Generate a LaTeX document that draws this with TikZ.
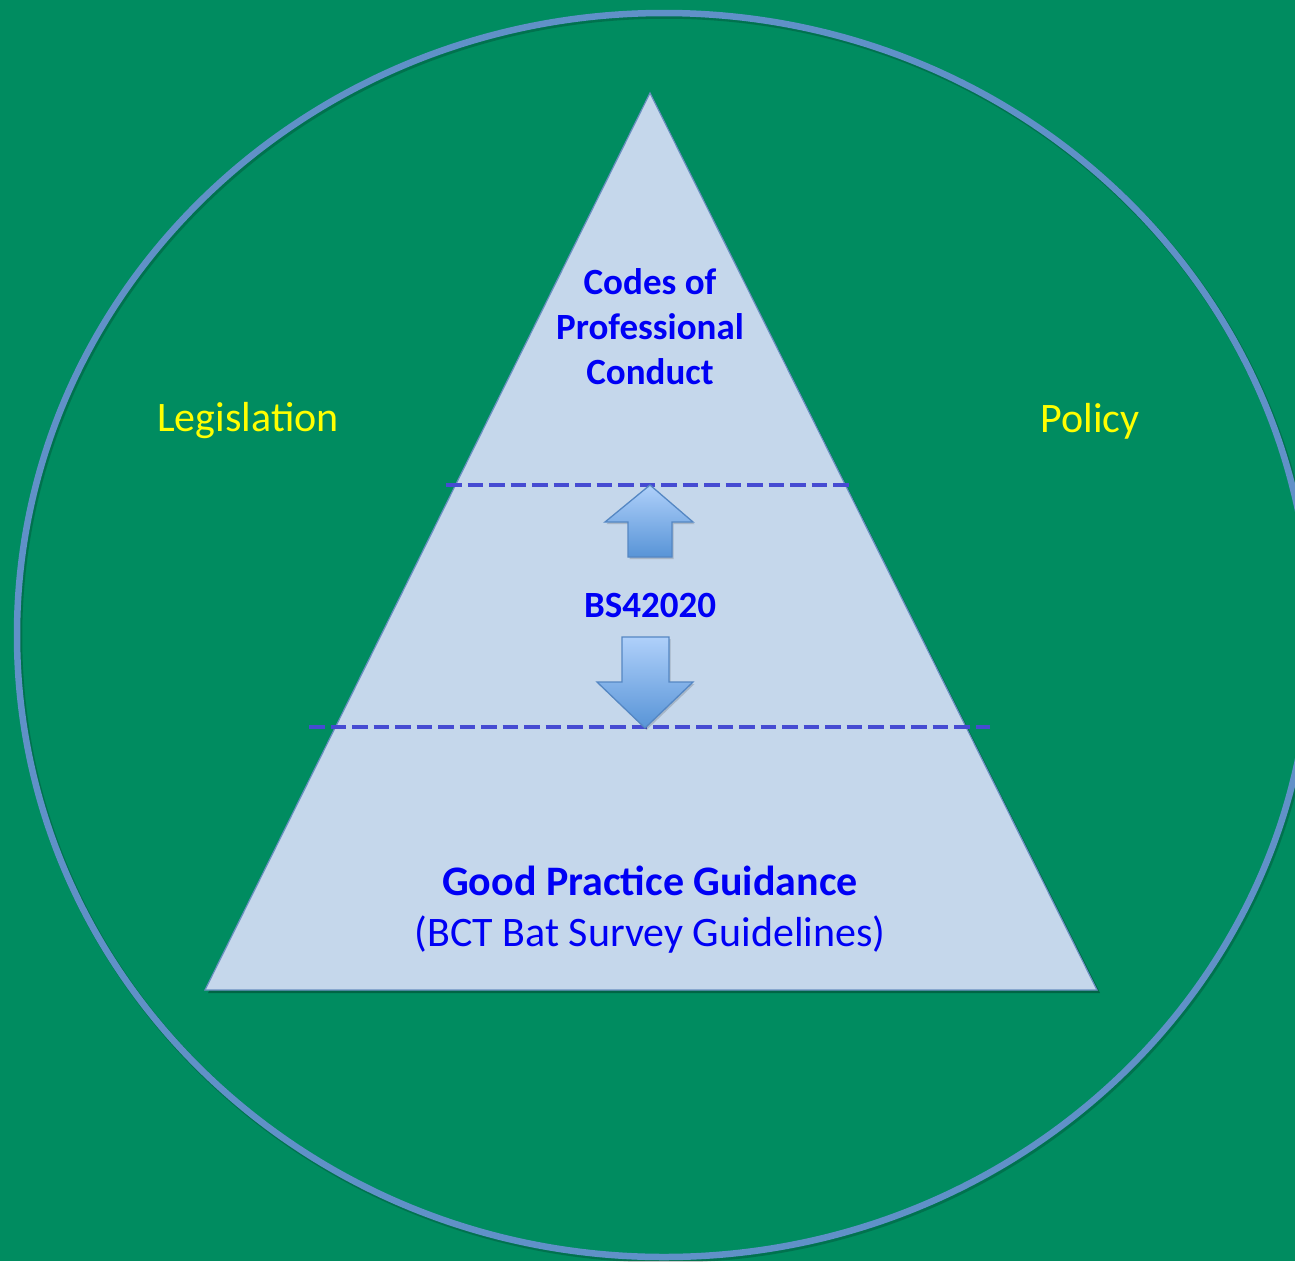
\documentclass[tikz,border=0pt]{standalone}
\usepackage{fontspec}
\setmainfont{Carlito}
\definecolor{bgc}{RGB}{0,140,96}
\definecolor{ringc}{RGB}{96,145,200}
\definecolor{trifill}{RGB}{197,215,235}
\definecolor{triedge}{RGB}{105,143,192}
\definecolor{dashc}{RGB}{70,75,210}
\definecolor{txtblue}{RGB}{0,0,245}
\definecolor{txtyellow}{RGB}{255,255,0}
\definecolor{arrtop}{RGB}{175,208,250}
\definecolor{arrbot}{RGB}{88,148,215}
\definecolor{arredge}{RGB}{85,135,195}
\begin{document}
\begin{tikzpicture}[x=1pt,y=-1pt,
  ring/.style={draw=ringc, line width=6.5pt},
  tri/.style={fill=trifill, draw=triedge, line width=1.2pt, line join=miter},
  divider/.style={draw=dashc, line width=4.7pt, dash pattern=on 15.5pt off 6pt},
  bigarrow/.style={top color=arrtop, bottom color=arrbot, draw=arredge, line width=1.3pt, line join=miter},
  boldlbl/.style={text=txtblue, font=\bfseries\fontsize{37}{45}\selectfont, anchor=base, inner sep=0pt},
  guidebold/.style={text=txtblue, font=\bfseries\fontsize{42}{51}\selectfont, anchor=base, inner sep=0pt},
  guidereg/.style={text=txtblue, font=\fontsize{42}{51}\selectfont, anchor=base, inner sep=0pt},
  sidelbl/.style={text=txtyellow, font=\fontsize{42}{50}\selectfont, anchor=base, inner sep=0pt}
]
\useasboundingbox (0,0) rectangle (1295,1261);
\clip (0,0) rectangle (1295,1261);
\fill[bgc] (0,0) rectangle (1295,1261);

% outer ring with soft shadow
\draw[line width=7.5pt, black, opacity=0.18] (665.5,637) ellipse [x radius=647, y radius=622];
\draw[ring] (664,635) ellipse [x radius=647, y radius=622];

% pyramid with shadow
\fill[black, opacity=0.28] (652,96) -- (1100,993) -- (208,993) -- cycle;
\path[tri] (650,93) -- (1097,990) -- (205,990) -- cycle;

% dividers
\coordinate (d1l) at (446,485);
\coordinate (d1r) at (852,485);
\coordinate (d2l) at (309,727);
\coordinate (d2r) at (990,727);
\draw[divider] (d1l) -- (d1r);
\draw[divider] (d2l) -- (d2r);

% up arrow
\fill[black, opacity=0.15] (651.5,487) -- (694.5,524) -- (673.5,524) -- (673.5,559) -- (629.5,559) -- (629.5,524) -- (606.5,524) -- cycle;
\path[bigarrow] (650,485) -- (693,522) -- (672,522) -- (672,557) -- (628,557) -- (628,522) -- (605,522) -- cycle;

% down arrow
\fill[black, opacity=0.15] (623.5,639) -- (670.5,639) -- (670.5,684) -- (694.5,684) -- (646.5,730) -- (598.5,684) -- (623.5,684) -- cycle;
\path[bigarrow] (622,637) -- (669,637) -- (669,682) -- (693,682) -- (645,728) -- (597,682) -- (622,682) -- cycle;

% labels
\node[boldlbl] (codes) at (650,294) {Codes of};
\node[boldlbl] (prof) at (650,339) {Professional};
\node[boldlbl] (cond) at (650,384) {Conduct};
\node[boldlbl] (bs) at (650,617) {BS42020};
\node[guidebold] (gpg) at (650,895) {Good Practice Guidance};
\node[guidereg] (bct) at (650,946) {(BCT Bat Survey Guidelines)};
\node[sidelbl] (leg) at (248,431) {Legislation};
\node[sidelbl] (pol) at (1090,432) {Policy};
\end{tikzpicture}
\end{document}
